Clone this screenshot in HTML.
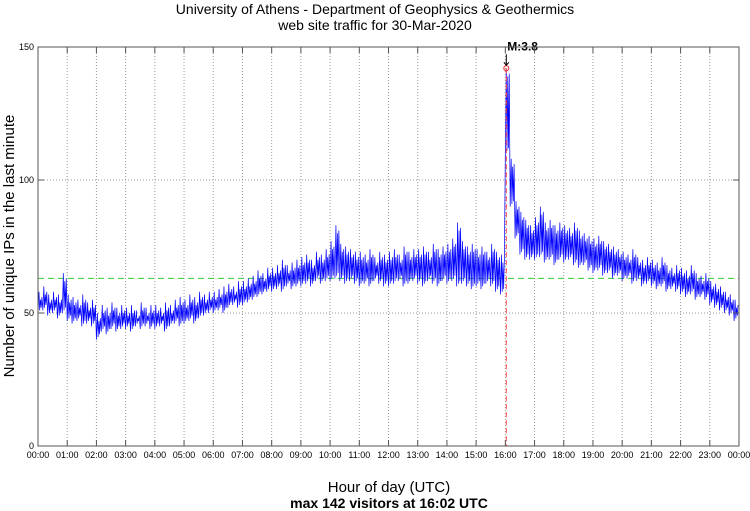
<!DOCTYPE html>
<html><head><meta charset="utf-8"><style>
body{margin:0;background:#fff;}
svg{display:block;font-family:"Liberation Sans",sans-serif;}
</style></head><body>
<svg id="chart" width="750" height="511">
<text x="375" y="14" text-anchor="middle" font-size="14">University of Athens - Department of Geophysics &amp; Geothermics</text>
<text x="375" y="30" text-anchor="middle" font-size="14">web site traffic for 30-Mar-2020</text>
<text transform="translate(14,246) rotate(-90)" text-anchor="middle" font-size="15">Number of unique IPs in the last minute</text>
<text x="389" y="492" text-anchor="middle" font-size="15">Hour of day (UTC)</text>
<text x="389" y="508" text-anchor="middle" font-size="14" font-weight="bold">max 142 visitors at 16:02 UTC</text>
<g id="grid"></g><g id="series"></g><g id="axes"></g>
</svg>
<script>
const yTicks=[0,50,100,150];
const xTickLabels=["00:00","01:00","02:00","03:00","04:00","05:00","06:00","07:00","08:00","09:00","10:00","11:00","12:00","13:00","14:00","15:00","16:00","17:00","18:00","19:00","20:00","21:00","22:00","23:00","00:00"];
const meanValue=63;
const peakValue=142;
const peakMinute=962;
const lowValues=[50,51,49,50,48,50,47,46,47,45,46,45,40,43,42,44,43,44,44,43,45,44,45,44,44,45,43,45,46,45,46,47,46,48,49,50,50,51,50,52,53,52,53,54,55,56,57,58,58,59,58,60,59,60,60,61,60,62,61,62,62,63,62,61,62,61,60,61,60,62,61,60,60,61,62,60,61,62,61,60,62,61,60,62,61,62,60,61,60,59,60,59,61,60,58,57,110,90,78,72,70,70,70,71,69,70,68,70,69,70,68,67,68,66,65,66,64,65,63,64,62,63,61,62,60,61,60,59,60,58,59,58,57,56,57,55,56,55,53,52,51,50,49,47];
const highValues=[58,60,57,58,57,65,57,56,55,57,54,55,50,53,52,54,52,53,52,53,51,54,52,53,53,52,54,53,55,56,55,57,56,58,57,58,58,59,60,61,60,62,62,63,64,66,65,67,67,68,70,68,69,70,71,72,70,73,72,74,77,83,76,75,74,73,73,72,74,71,73,72,73,74,72,75,73,74,74,75,73,76,74,75,76,78,84,77,75,76,74,75,73,76,73,72,142,108,92,88,85,83,86,90,84,85,83,84,83,82,84,81,80,79,78,79,77,76,75,74,73,72,74,71,70,71,70,69,71,68,67,68,67,66,68,65,64,65,62,61,60,58,57,55];
const L=38,R=739,T=47,B=446;
const xs=m=>L+(R-L)*m/1440;
const ys=v=>B-(B-T)*v/150;
const NS="http://www.w3.org/2000/svg";
function mk(tag,attrs,parent){const e=document.createElementNS(NS,tag);for(const k in attrs)e.setAttribute(k,attrs[k]);parent.appendChild(e);return e;}
const grid=document.getElementById('grid'),axes=document.getElementById('axes'),ser=document.getElementById('series');
xTickLabels.forEach((lab,i)=>{const x=xs(i*60);
 if(i>0&&i<24){const g=mk('line',{x1:x,x2:x,y1:T,y2:B,stroke:'#999','stroke-dasharray':'1,2','stroke-width':1},grid);
 
 }
 const t1=mk('line',{x1:x,x2:x,y1:B,y2:B-6,stroke:'#555'},axes);
 
 
 const t2=mk('line',{x1:x,x2:x,y1:T,y2:T+6,stroke:'#555'},axes);
 
 
 const tx=mk('text',{x:x,y:B+12,'text-anchor':'middle','font-size':9},axes);tx.textContent=lab;
 
 });
yTicks.forEach(v=>{const y=ys(v);
 if(v>0){const g=mk('line',{x1:L,x2:R,y1:y,y2:y,stroke:'#999','stroke-dasharray':'1,2'},grid);
 
 }
 const t=mk('line',{x1:L,x2:L+6,y1:y,y2:y,stroke:'#555'},axes);
 
 
 const t2=mk('line',{x1:R,x2:R-6,y1:y,y2:y,stroke:'#555'},axes);
 
 
 const tx=mk('text',{x:L-4,y:y+3,'text-anchor':'end','font-size':9},axes);tx.textContent=v;
 
 });
const frame=mk('rect',{x:L,y:T,width:R-L,height:B-T,fill:'none',stroke:'#555'},axes);


const mean=mk('line',{x1:L,x2:R,y1:ys(meanValue),y2:ys(meanValue),stroke:'#3c3','stroke-dasharray':'6,4','stroke-width':1},ser);


let pts=[];
lowValues.forEach((lo,i)=>{const m=i*10,hi=highValues[i];pts.push(xs(m)+','+ys(lo));pts.push(xs(m+2)+','+ys(hi));pts.push(xs(m+3.5)+','+ys(lo+1));pts.push(xs(m+5)+','+ys(hi-3));pts.push(xs(m+6.5)+','+ys(lo+2));pts.push(xs(m+8)+','+ys(hi-2));});
const pl=mk('polyline',{points:pts.join(' '),fill:'none',stroke:'#00f','stroke-width':0.7},ser);


const px=xs(peakMinute),py=ys(peakValue);
const vl=mk('line',{x1:px,x2:px,y1:py,y2:B,stroke:'#f44','stroke-dasharray':'5,3'},ser);


const c=mk('circle',{cx:px,cy:py,r:2.5,fill:'none',stroke:'#f22'},ser);


const ar=mk('path',{d:`M${px},${py-14}L${px},${py-3}M${px-2.5},${py-6}L${px},${py-3}L${px+2.5},${py-6}`,stroke:'#000',fill:'none'},ser);


const lbl=mk('text',{x:px+1,y:py-18,'font-size':12,'font-weight':'bold'},ser);lbl.textContent='M:3.8';


</script>
</body></html>
